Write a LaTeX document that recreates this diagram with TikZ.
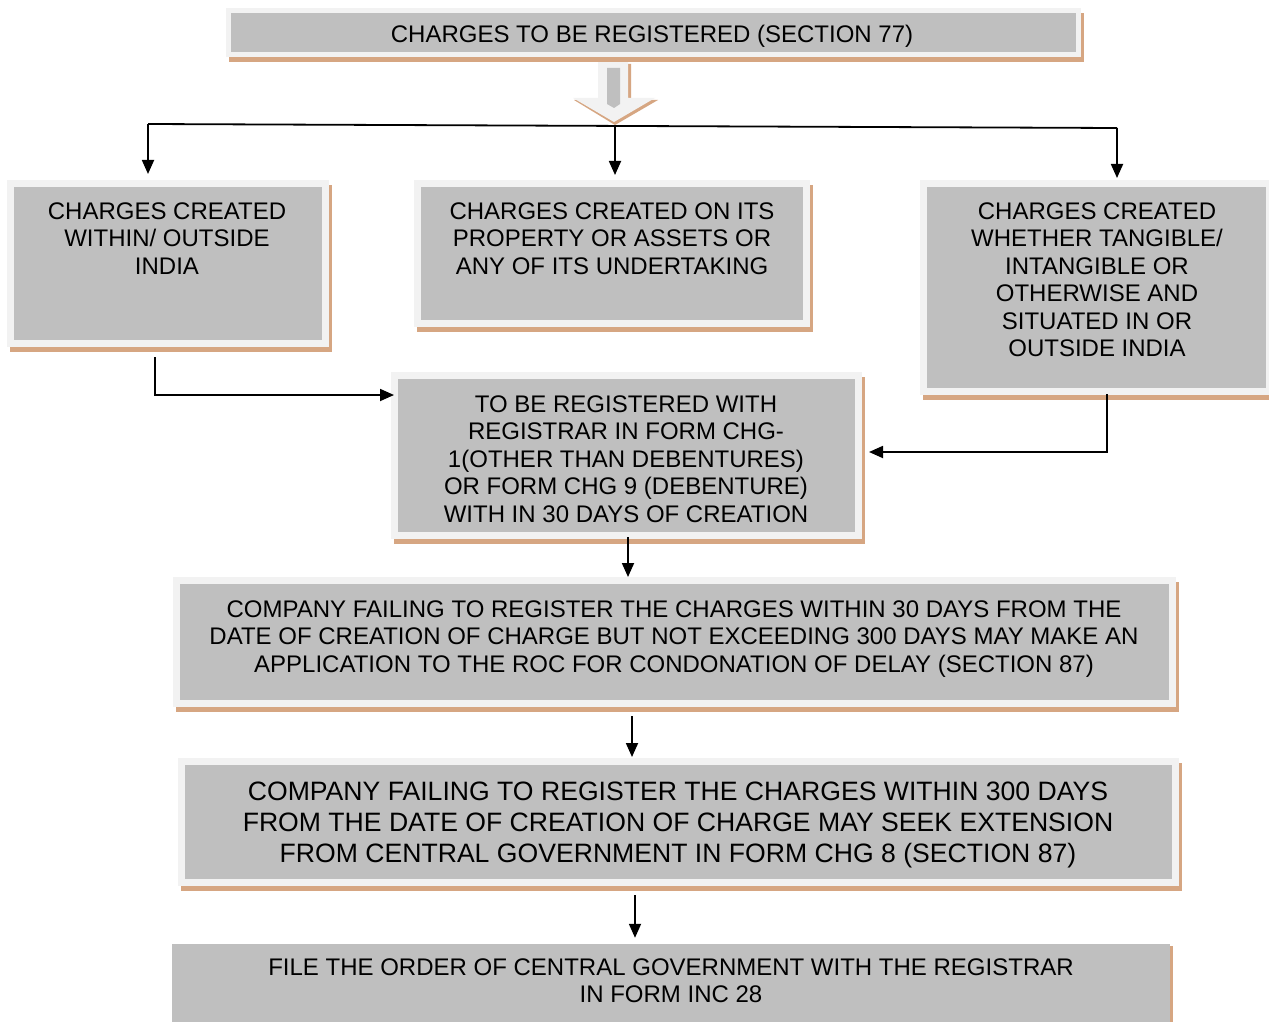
\documentclass[tikz,border=0pt]{standalone}
\usepackage{fontspec}
\setmainfont{Liberation Sans}
\usetikzlibrary{arrows.meta,calc}
\definecolor{boxgray}{HTML}{BFBFBF}
\definecolor{boxlight}{HTML}{F2F2F2}
\definecolor{shadowtan}{RGB}{214,166,130}
\tikzset{
  chbox/.style={fill=boxgray, draw=boxlight, inner sep=0pt},
  chtext/.style={align=center, inner sep=0pt, font=\fontsize{24}{27.5}\selectfont},
  conn/.style={line width=1.8pt, -{Triangle[length=14pt,width=12pt]}},
  plainline/.style={line width=1.8pt},
}
\newcommand\mkbox[6]{%
  \fill[shadowtan] (#2+3,#3+5) rectangle (#4+3,#5+5);
  \node[chbox, line width=#6pt, minimum width={#4-#2-#6}, minimum height={#5-#3-#6}] (#1) at ({(#2+#4)/2},{(#3+#5)/2}) {};
}
\begin{document}
\begin{tikzpicture}[x=1pt,y=-1pt]
\useasboundingbox (0,0) rectangle (1269,1022);
\fill[white] (0,0) rectangle (1269,1022);

% big block arrow under the title
\fill[shadowtan] (601,64) -- (631,64) -- (631,100) -- (658,100) -- (615,125) -- (574,100) -- (601,100) -- cycle;
\fill[boxlight] (598,62) -- (628,62) -- (628,98) -- (655,98) -- (614,122) -- (573,98) -- (598,98) -- cycle;
\fill[boxgray] (607,68) -- (620,68) -- (620,104) -- (614,108) -- (607,104) -- cycle;

% boxes
\mkbox{b1}{226}{8}{1081}{57}{5}
\mkbox{b2}{7}{180}{329}{347}{7}
\mkbox{b3}{414}{180}{810}{327}{7}
\mkbox{b4}{920}{180}{1273}{395}{7}
\mkbox{b5}{391}{372}{862}{539}{7}
\mkbox{b6}{173}{577}{1176}{707}{7}
\mkbox{b7}{178}{758}{1179}{886}{7}
\fill[shadowtan] (1170,946) rectangle (1173,1022);
\node[fill=boxgray, draw=none, inner sep=0pt, minimum width=998, minimum height=78] (b8) at (671,983) {};

% connectors
\coordinate (jl) at (148,124);
\coordinate (jm) at (615,126);
\coordinate (jr) at (1117,128);
\draw[plainline] (jl) -- (jr);
\draw[conn, shorten >=6pt] (jl) -- (jl |- b2.north);
\draw[conn, shorten >=5pt] (jm) -- (jm |- b3.north);
\draw[conn, shorten >=2pt] (jr) -- (jr |- b4.north);

\coordinate (la) at (155,357);
\draw[conn] (la) |- ([xshift=3pt,yshift=60.5pt]b5.west);
\coordinate (ra) at (1107,394);
\draw[conn] (ra) |- ([xshift=7pt,yshift=3.5pt]b5.east);

\coordinate (a5) at (628,537);
\draw[conn] (a5) -- (a5 |- b6.north);
\coordinate (a6) at (632,716);
\draw[conn, shorten >=1pt] (a6) -- (a6 |- b7.north);
\coordinate (a7) at (635,895);
\draw[conn, shorten >=6pt] (a7) -- (a7 |- b8.north);

% texts
\node[chtext, anchor=north] (t1) at (652,24.5) {CHARGES TO BE REGISTERED (SECTION 77)};
\node[chtext, anchor=north] (t2) at (167,202.5) {CHARGES CREATED\\WITHIN/ OUTSIDE\\INDIA};
\node[chtext, anchor=north] (t3) at (612,202.5) {CHARGES CREATED ON ITS\\PROPERTY OR ASSETS OR\\ANY OF ITS UNDERTAKING};
\node[chtext, anchor=north] (t4) at (1097,202.5) {CHARGES CREATED\\WHETHER TANGIBLE/\\INTANGIBLE OR\\OTHERWISE AND\\SITUATED IN OR\\OUTSIDE INDIA};
\node[chtext, anchor=north] (t5) at (626,395.5) {TO BE REGISTERED WITH\\REGISTRAR IN FORM CHG-\\1(OTHER THAN DEBENTURES)\\OR FORM CHG 9 (DEBENTURE)\\WITH IN 30 DAYS OF CREATION};
\node[chtext, anchor=north] (t6) at (674,600.5) {COMPANY FAILING TO REGISTER THE CHARGES WITHIN 30 DAYS FROM THE\\DATE OF CREATION OF CHARGE BUT NOT EXCEEDING 300 DAYS MAY MAKE AN\\APPLICATION TO THE ROC FOR CONDONATION OF DELAY (SECTION 87)};
\node[chtext, anchor=north, font=\fontsize{26.6}{31}\selectfont] (t7) at (678,781.5) {COMPANY FAILING TO REGISTER THE CHARGES WITHIN 300 DAYS\\FROM THE DATE OF CREATION OF CHARGE MAY SEEK EXTENSION\\FROM CENTRAL GOVERNMENT IN FORM CHG 8 (SECTION 87)};
\node[chtext, anchor=north] (t8) at (671,958.5) {FILE THE ORDER OF CENTRAL GOVERNMENT WITH THE REGISTRAR\\IN FORM INC 28};
\end{tikzpicture}
\end{document}
